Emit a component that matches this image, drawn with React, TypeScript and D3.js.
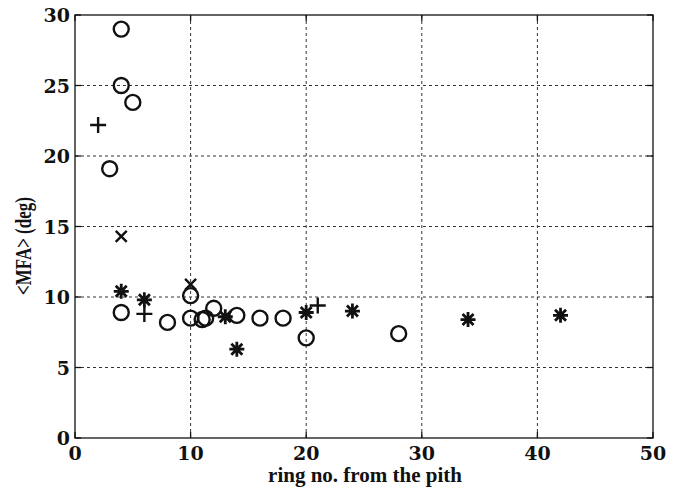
import React, { useEffect, useRef } from "react";
import * as d3 from "d3";

// ring number / mean MFA for each marker type
const circleRing = [4, 4, 5, 3, 4, 8, 10, 10, 11, 11.3, 12, 14, 16, 18, 20, 28];
const circleMFA = [29, 25, 23.8, 19.1, 8.9, 8.2, 10.1, 8.5, 8.4, 8.5, 9.2, 8.7, 8.5, 8.5, 7.1, 7.4];

const plusRing = [2, 6, 21];
const plusMFA = [22.2, 8.8, 9.4];

const crossRing = [4, 10];
const crossMFA = [14.3, 10.9];

const starRing = [4, 6, 13, 14, 20, 24, 34, 42];
const starMFA = [10.4, 9.8, 8.6, 6.3, 8.9, 9.0, 8.4, 8.7];

const xTicks = [0, 10, 20, 30, 40, 50];
const yTicks = [0, 5, 10, 15, 20, 25, 30];

const App = () => {
  const ref = useRef<SVGSVGElement>(null);

  useEffect(() => {
    const svg = d3.select(ref.current);
    svg.selectAll("*").remove();

    const left = 75, right = 653, top = 15, bottom = 438;
    const x = d3.scaleLinear().domain([0, 50]).range([left, right]);
    const y = d3.scaleLinear().domain([0, 30]).range([bottom, top]);
    const numFont = "'DejaVu Serif', serif";
    const font = "'Liberation Serif', 'Times New Roman', serif";

    // grid
    const grid = svg.append("g").attr("stroke", "#333").attr("stroke-width", 1)
      .attr("stroke-dasharray", "3,3");
    xTicks.slice(1, -1).forEach(t => {
      grid.append("line").attr("x1", x(t)).attr("x2", x(t)).attr("y1", top).attr("y2", bottom);
    });
    yTicks.slice(1, -1).forEach(t => {
      grid.append("line").attr("x1", left).attr("x2", right).attr("y1", y(t)).attr("y2", y(t));
    });

    // frame
    svg.append("rect").attr("x", left).attr("y", top)
      .attr("width", right - left).attr("height", bottom - top)
      .attr("fill", "none").attr("stroke", "#111").attr("stroke-width", 1.3);

    // inner ticks
    const ticks = svg.append("g").attr("stroke", "#111").attr("stroke-width", 1.3);
    xTicks.forEach(t => {
      ticks.append("line").attr("x1", x(t)).attr("x2", x(t)).attr("y1", bottom).attr("y2", bottom - 6);
      ticks.append("line").attr("x1", x(t)).attr("x2", x(t)).attr("y1", top).attr("y2", top + 6);
    });
    yTicks.forEach(t => {
      ticks.append("line").attr("x1", left).attr("x2", left + 6).attr("y1", y(t)).attr("y2", y(t));
      ticks.append("line").attr("x1", right).attr("x2", right - 6).attr("y1", y(t)).attr("y2", y(t));
    });

    // tick labels
    svg.append("g").selectAll("text").data(xTicks).join("text")
      .attr("x", d => x(d)).attr("y", 460)
      .attr("text-anchor", "middle")
      .attr("font-family", numFont).attr("font-weight", "bold").attr("font-size", 19)
      .attr("fill", "#111").text(d => d);
    svg.append("g").selectAll("text").data(yTicks).join("text")
      .attr("x", 70).attr("y", d => y(d) + 7)
      .attr("text-anchor", "end")
      .attr("font-family", numFont).attr("font-weight", "bold").attr("font-size", 19)
      .attr("fill", "#111").text(d => d);

    // axis titles
    svg.append("text").attr("x", 365).attr("y", 482)
      .attr("text-anchor", "middle")
      .attr("font-family", font).attr("font-weight", "bold").attr("font-size", 21)
      .attr("fill", "#111").text("ring no. from the pith");
    svg.append("text")
      .attr("transform", "translate(31,246) rotate(-90) scale(1,1.3)")
      .attr("text-anchor", "middle")
      .attr("font-family", font).attr("font-weight", "bold").attr("font-size", 17)
      .attr("fill", "#111").text("<MFA> (deg)");

    const marks = svg.append("g").attr("stroke", "#111").attr("fill", "none")
      .attr("stroke-width", 2.4);

    circleRing.forEach((r, i) => {
      marks.append("circle").attr("cx", x(r)).attr("cy", y(circleMFA[i])).attr("r", 7.5);
    });

    plusRing.forEach((r, i) => {
      const cx = x(r), cy = y(plusMFA[i]), s = 8;
      marks.append("path").attr("d", `M${cx - s},${cy}H${cx + s}M${cx},${cy - s}V${cy + s}`);
    });

    crossRing.forEach((r, i) => {
      const cx = x(r), cy = y(crossMFA[i]), s = 5.5;
      marks.append("path")
        .attr("d", `M${cx - s},${cy - s}L${cx + s},${cy + s}M${cx - s},${cy + s}L${cx + s},${cy - s}`);
    });

    starRing.forEach((r, i) => {
      const cx = x(r), cy = y(starMFA[i]), s = 7.5, d = 5.5;
      marks.append("path")
        .attr("stroke-width", 2.8)
        .attr("d", `M${cx - s},${cy}H${cx + s}M${cx},${cy - s}V${cy + s}` +
          `M${cx - d},${cy - d}L${cx + d},${cy + d}M${cx - d},${cy + d}L${cx + d},${cy - d}`);
    });
  }, []);

  return (
    <svg ref={ref} width={677} height={489}
      style={{ position: "absolute", left: 0, top: 0, background: "#fff" }} />
  );
};

export default App;
